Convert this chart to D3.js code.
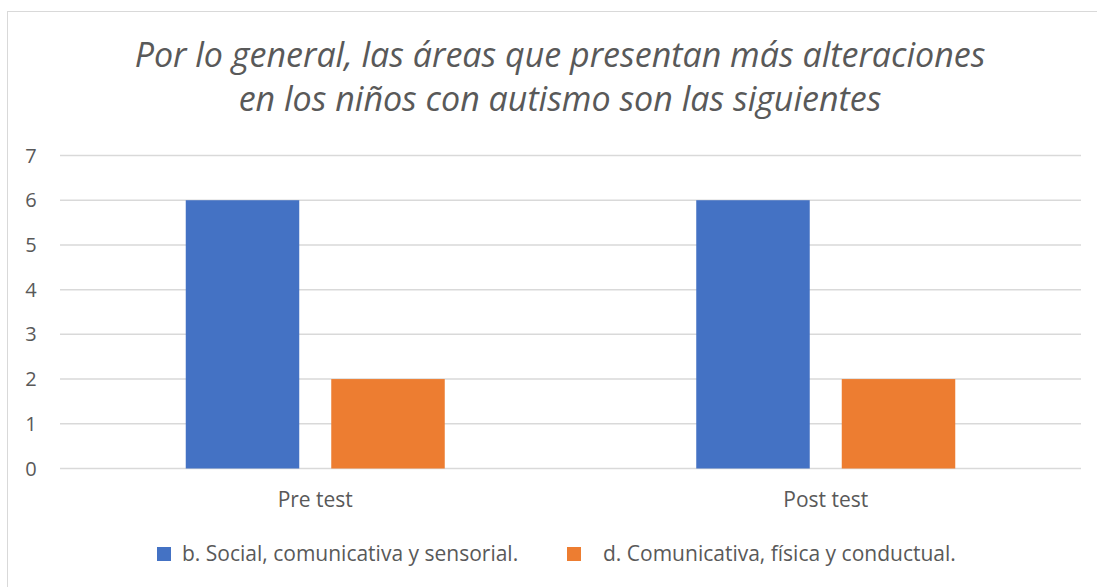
<!DOCTYPE html>
<html>
<head>
<meta charset="utf-8">
<script src="https://cdn.jsdelivr.net/npm/d3@7"></script>
<style>
  body { margin: 0; background: #fff; }
  text { font-family: "Open Sans", "Noto Sans", sans-serif; fill: #595959; }
</style>
</head>
<body>
<svg id="chart"></svg>
<script>
const categories = ['Pre test', 'Post test']
const seriesNames = ['b. Social, comunicativa y sensorial.', 'd. Comunicativa, física y conductual.']
const seriesValues = [
    [6, 6],
    [2, 2]
]
const colors = ['#4472c4', '#ed7d31']
const yTicks = [0, 1, 2, 3, 4, 5, 6, 7]
const titleLines = ['Por lo general, las áreas que presentan más alteraciones', 'en los niños con autismo son las siguientes']

const w = 1097, h = 587
const svg = d3.select('#chart').attr('width', w).attr('height', h)

// chart frame
svg.append('rect').attr('x', 7.5).attr('y', 11.5).attr('width', w).attr('height', h)
    .attr('fill', 'none').attr('stroke', '#d9d9d9').attr('stroke-width', 1)

// title
svg.append('g').selectAll('text').data(titleLines).join('text')
    .attr('x', 560).attr('y', (d, i) => 67 + i * 44)
    .attr('text-anchor', 'middle').style('font-size', '34px').style('font-style', 'italic')
    .text(d => d)

// scales
const x = d3.scaleBand().domain(categories).range([60, 1081])
const xInner = d3.scaleBand().domain(d3.range(seriesNames.length)).range([-129.5, 129.5]).paddingInner(0.22)
const y = d3.scaleLinear().domain([0, 7]).range([468.5, 155.5])

// gridlines
svg.append('g').selectAll('line').data(yTicks).join('line')
    .attr('x1', 60).attr('x2', 1081)
    .attr('y1', d => y(d)).attr('y2', d => y(d))
    .attr('stroke', '#d9d9d9').attr('stroke-width', 1.5)

// y tick labels
svg.append('g').selectAll('text').data(yTicks).join('text')
    .attr('x', 31).attr('y', d => y(d) + 7)
    .attr('text-anchor', 'middle').style('font-size', '20px')
    .text(d => d)

// bars
seriesValues.forEach((vals, s) => {
    svg.append('g').selectAll('rect').data(vals).join('rect')
        .attr('x', (d, i) => x(categories[i]) + x.bandwidth() / 2 + xInner(s))
        .attr('width', xInner.bandwidth())
        .attr('y', d => y(d))
        .attr('height', d => y(0) - y(d))
        .attr('fill', colors[s])
})

// category labels
svg.append('g').selectAll('text').data(categories).join('text')
    .attr('x', d => x(d) + x.bandwidth() / 2).attr('y', 507)
    .attr('text-anchor', 'middle').style('font-size', '21px')
    .text(d => d)

// legend
const legendX = [157, 567]
const legendTextX = [182, 603]
const legend = svg.append('g').selectAll('g').data(seriesNames).join('g')
legend.append('rect')
    .attr('x', (d, i) => legendX[i]).attr('y', 547)
    .attr('width', 14).attr('height', 14)
    .attr('fill', (d, i) => colors[i])
legend.append('text')
    .attr('x', (d, i) => legendTextX[i]).attr('y', 561)
    .style('font-size', '21px')
    .text(d => d)
</script>
</body>
</html>
